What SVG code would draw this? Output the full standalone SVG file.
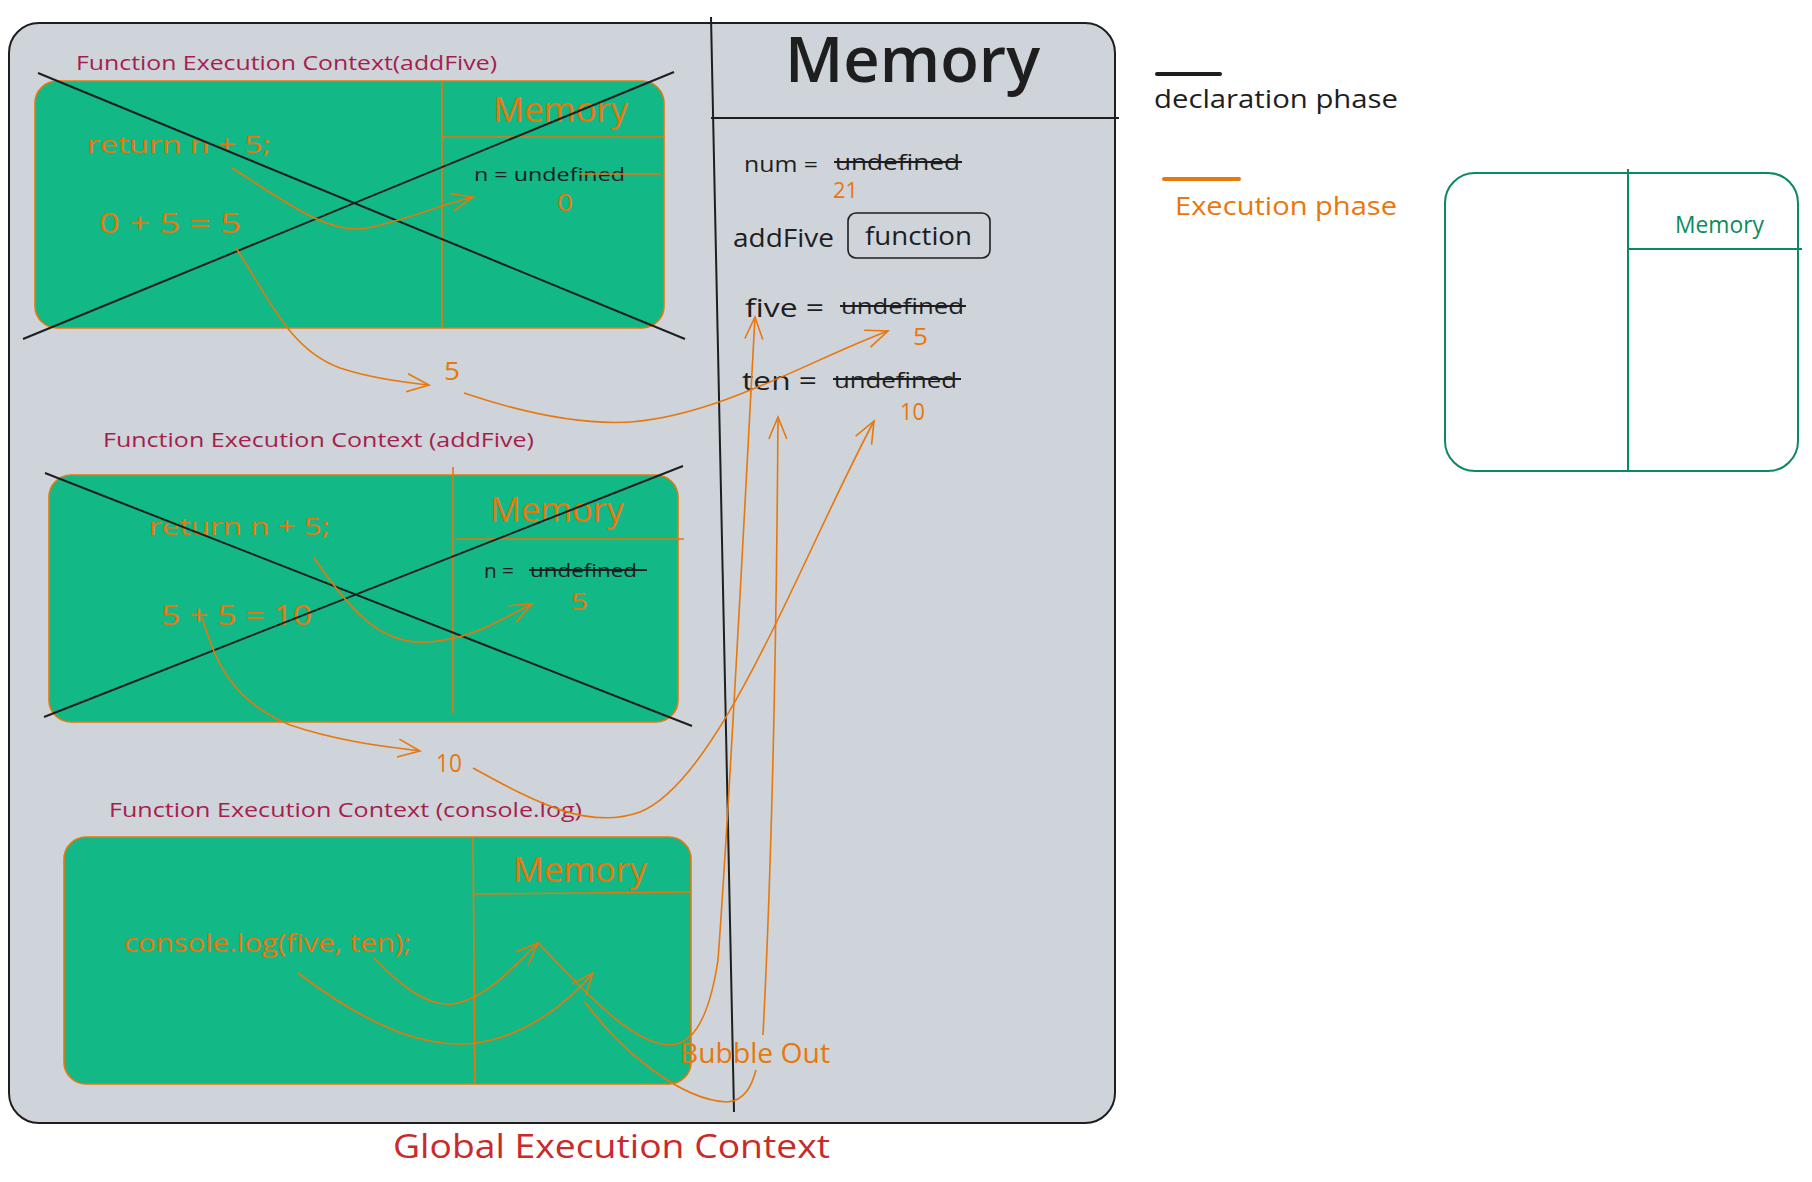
<svg xmlns="http://www.w3.org/2000/svg" width="1812" height="1182" viewBox="0 0 1812 1182">
<style>
text{font-family:"Open Sans","Noto Sans","Liberation Sans",sans-serif}
.ttl{fill:#a61e4d;font-size:20px}
.or{fill:#e8770c}
.bk{fill:#1e1e1e}
.gbox{fill:#12b886;stroke:#e8770c;stroke-width:1.6}
.oline{stroke:#e8770c;stroke-width:1.6;fill:none}
.cross{stroke:#1e1e1e;stroke-width:2;fill:none}
.arr{stroke:#e8770c;stroke-width:1.6;fill:none;marker-end:url(#ah)}
.arrn{stroke:#e8770c;stroke-width:1.6;fill:none}
.strike{stroke:#1e1e1e;stroke-width:2}
.mem{fill:#e8770c;font-size:34px}
</style>
<defs>
<marker id="ah" markerUnits="userSpaceOnUse" markerWidth="26" markerHeight="22" refX="23" refY="11" orient="auto">
<path d="M1,2 L23,11 L1,20" fill="none" stroke="#e8770c" stroke-width="1.6"/>
</marker>
</defs>

<g id="global-context">
<rect x="9" y="23" width="1106" height="1100" rx="30" fill="#ced4da" stroke="#1e1e1e" stroke-width="2"/>
<path d="M711,17 L734,1112" stroke="#1e1e1e" stroke-width="2" fill="none"/>
<path d="M711,118 L1119,118" stroke="#1e1e1e" stroke-width="2" fill="none"/>
<text x="785" y="82" class="bk" font-size="64" font-weight="600" textLength="255" lengthAdjust="spacingAndGlyphs">Memory</text>
<text x="393" y="1158" fill="#c92a2a" font-size="32" textLength="437" lengthAdjust="spacingAndGlyphs">Global Execution Context</text>
</g>

<g id="global-memory">
<text x="744" y="172" class="bk" font-size="22" textLength="74" lengthAdjust="spacingAndGlyphs">num =</text>
<text x="835" y="170" class="bk" font-size="21" textLength="125" lengthAdjust="spacingAndGlyphs">undefined</text>
<line x1="834" y1="162" x2="962" y2="162" class="strike"/>
<text x="833" y="198" class="or" font-size="22" textLength="25" lengthAdjust="spacingAndGlyphs">21</text>
<text x="733" y="247" class="bk" font-size="26" textLength="101" lengthAdjust="spacingAndGlyphs">addFive</text>
<rect x="848" y="213" width="142" height="45" rx="8" fill="none" stroke="#1e1e1e" stroke-width="1.6"/>
<text x="865" y="245" class="bk" font-size="26" textLength="107" lengthAdjust="spacingAndGlyphs">function</text>
<text x="745" y="317" class="bk" font-size="26" textLength="79" lengthAdjust="spacingAndGlyphs">five =</text>
<text x="841" y="314" class="bk" font-size="21" textLength="123" lengthAdjust="spacingAndGlyphs">undefined</text>
<line x1="840" y1="306" x2="966" y2="306" class="strike"/>
<text x="913" y="345" class="or" font-size="23" textLength="15" lengthAdjust="spacingAndGlyphs">5</text>
<text x="742" y="390" class="bk" font-size="26" textLength="75" lengthAdjust="spacingAndGlyphs">ten =</text>
<text x="834" y="388" class="bk" font-size="22" textLength="123" lengthAdjust="spacingAndGlyphs">undefined</text>
<line x1="833" y1="379" x2="961" y2="379" class="strike"/>
<text x="900" y="420" class="or" font-size="24" textLength="25" lengthAdjust="spacingAndGlyphs">10</text>
</g>

<g id="fec-addfive-1">
<text x="76" y="70" class="ttl" textLength="421" lengthAdjust="spacingAndGlyphs">Function Execution Context(addFive)</text>
<rect x="35" y="81" width="629" height="247" rx="22" class="gbox"/>
<line x1="442" y1="81" x2="442" y2="328" class="oline"/>
<line x1="442" y1="137" x2="664" y2="137" class="oline"/>
<text x="493" y="122" class="mem" textLength="135" lengthAdjust="spacingAndGlyphs">Memory</text>
<text x="87" y="153" class="or" font-size="24" textLength="184" lengthAdjust="spacingAndGlyphs">return n + 5;</text>
<text x="99" y="233" class="or" font-size="28" textLength="142" lengthAdjust="spacingAndGlyphs">0 + 5 = 5</text>
<text x="474" y="181" class="bk" font-size="19" textLength="151" lengthAdjust="spacingAndGlyphs">n = undefined</text>
<line x1="579" y1="174" x2="661" y2="174" class="oline"/>
<text x="557" y="211" class="or" font-size="24" textLength="16" lengthAdjust="spacingAndGlyphs">0</text>
<line x1="38" y1="73" x2="685" y2="339" class="cross"/>
<line x1="23" y1="339" x2="674" y2="72" class="cross"/>
</g>

<g id="fec-addfive-2">
<text x="103" y="447" class="ttl" textLength="431" lengthAdjust="spacingAndGlyphs">Function Execution Context (addFive)</text>
<rect x="49" y="475" width="629" height="247" rx="22" class="gbox"/>
<line x1="453" y1="467" x2="453" y2="713" class="oline"/>
<line x1="455" y1="539" x2="684" y2="539" class="oline"/>
<text x="490" y="522" class="mem" textLength="134" lengthAdjust="spacingAndGlyphs">Memory</text>
<text x="149" y="535" class="or" font-size="24" textLength="181" lengthAdjust="spacingAndGlyphs">return n + 5;</text>
<text x="161" y="625" class="or" font-size="28" textLength="151" lengthAdjust="spacingAndGlyphs">5 + 5 = 10</text>
<text x="484" y="578" class="bk" font-size="20" textLength="30" lengthAdjust="spacingAndGlyphs">n =</text>
<text x="530" y="577" class="bk" font-size="19" textLength="107" lengthAdjust="spacingAndGlyphs">undefined</text>
<line x1="529" y1="570" x2="647" y2="570" class="strike"/>
<text x="571" y="610" class="or" font-size="24" textLength="17" lengthAdjust="spacingAndGlyphs">5</text>
<line x1="45" y1="473" x2="692" y2="726" class="cross"/>
<line x1="44" y1="717" x2="683" y2="466" class="cross"/>
</g>

<g id="fec-console-log">
<text x="109" y="817" class="ttl" textLength="473" lengthAdjust="spacingAndGlyphs">Function Execution Context  (console.log)</text>
<rect x="64" y="837" width="627" height="247" rx="22" class="gbox"/>
<line x1="473" y1="837" x2="475" y2="1084" class="oline"/>
<line x1="473" y1="894" x2="691" y2="892" class="oline" stroke-width="2.4"/>
<text x="513" y="882" class="mem" textLength="134" lengthAdjust="spacingAndGlyphs">Memory</text>
<text x="124" y="952" class="or" font-size="26" textLength="287" lengthAdjust="spacingAndGlyphs">console.log(five, ten);</text>
</g>

<g id="value-5"><text x="444" y="380" class="or" font-size="26" textLength="16" lengthAdjust="spacingAndGlyphs">5</text></g>
<g id="value-10"><text x="436" y="772" class="or" font-size="26" textLength="26" lengthAdjust="spacingAndGlyphs">10</text></g>
<g id="bubble-out"><text x="680" y="1063" class="or" font-size="28" textLength="150" lengthAdjust="spacingAndGlyphs">Bubble Out</text></g>

<g id="legend">
<line x1="1157" y1="74" x2="1220" y2="74" stroke="#1e1e1e" stroke-width="4" stroke-linecap="round"/>
<text x="1154" y="108" class="bk" font-size="26" textLength="244" lengthAdjust="spacingAndGlyphs">declaration phase</text>
<line x1="1164" y1="179" x2="1239" y2="179" stroke="#e8770c" stroke-width="4" stroke-linecap="round"/>
<text x="1175" y="215" class="or" font-size="26" textLength="222" lengthAdjust="spacingAndGlyphs">Execution phase</text>
</g>

<g id="template-box">
<rect x="1445" y="173" width="353" height="298" rx="30" fill="none" stroke="#0c8a5f" stroke-width="2"/>
<line x1="1628" y1="169" x2="1628" y2="470" stroke="#0c8a5f" stroke-width="2"/>
<line x1="1628" y1="249" x2="1802" y2="249" stroke="#0c8a5f" stroke-width="2"/>
<text x="1675" y="233" fill="#0c8a5f" font-size="24" textLength="89" lengthAdjust="spacingAndGlyphs">Memory</text>
</g>

<g id="connectors">
<path class="arr" d="M232,168 C290,205 330,235 367,228 C400,222 440,205 473,197"/>
<path class="arr" d="M236,248 C270,300 290,350 340,368 C370,378 400,382 429,385"/>
<path class="arr" d="M464,393 C520,412 580,425 631,422 C720,415 810,360 888,331"/>
<path class="arr" d="M314,558 C350,610 380,645 427,642 C470,640 500,620 532,604"/>
<path class="arr" d="M202,617 C215,660 230,700 290,725 C340,742 390,747 420,751"/>
<path class="arr" d="M473,768 C540,805 590,830 640,812 C720,780 800,560 874,421"/>
<path class="arr" d="M374,958 C400,985 430,1010 458,1003 C490,995 515,965 538,943"/>
<path class="arr" d="M298,973 C360,1020 420,1050 476,1043 C530,1035 570,1000 593,973"/>
<path class="arr" d="M538,943 C580,985 630,1045 670,1045 C700,1045 712,1000 718,960 C730,800 745,500 755,317"/>
<path class="arrn" d="M585,1002 C620,1050 680,1100 727,1102 C745,1101 752,1085 756,1070"/>
<path class="arr" d="M763,1035 C770,900 776,700 778,417"/>
</g>
</svg>
